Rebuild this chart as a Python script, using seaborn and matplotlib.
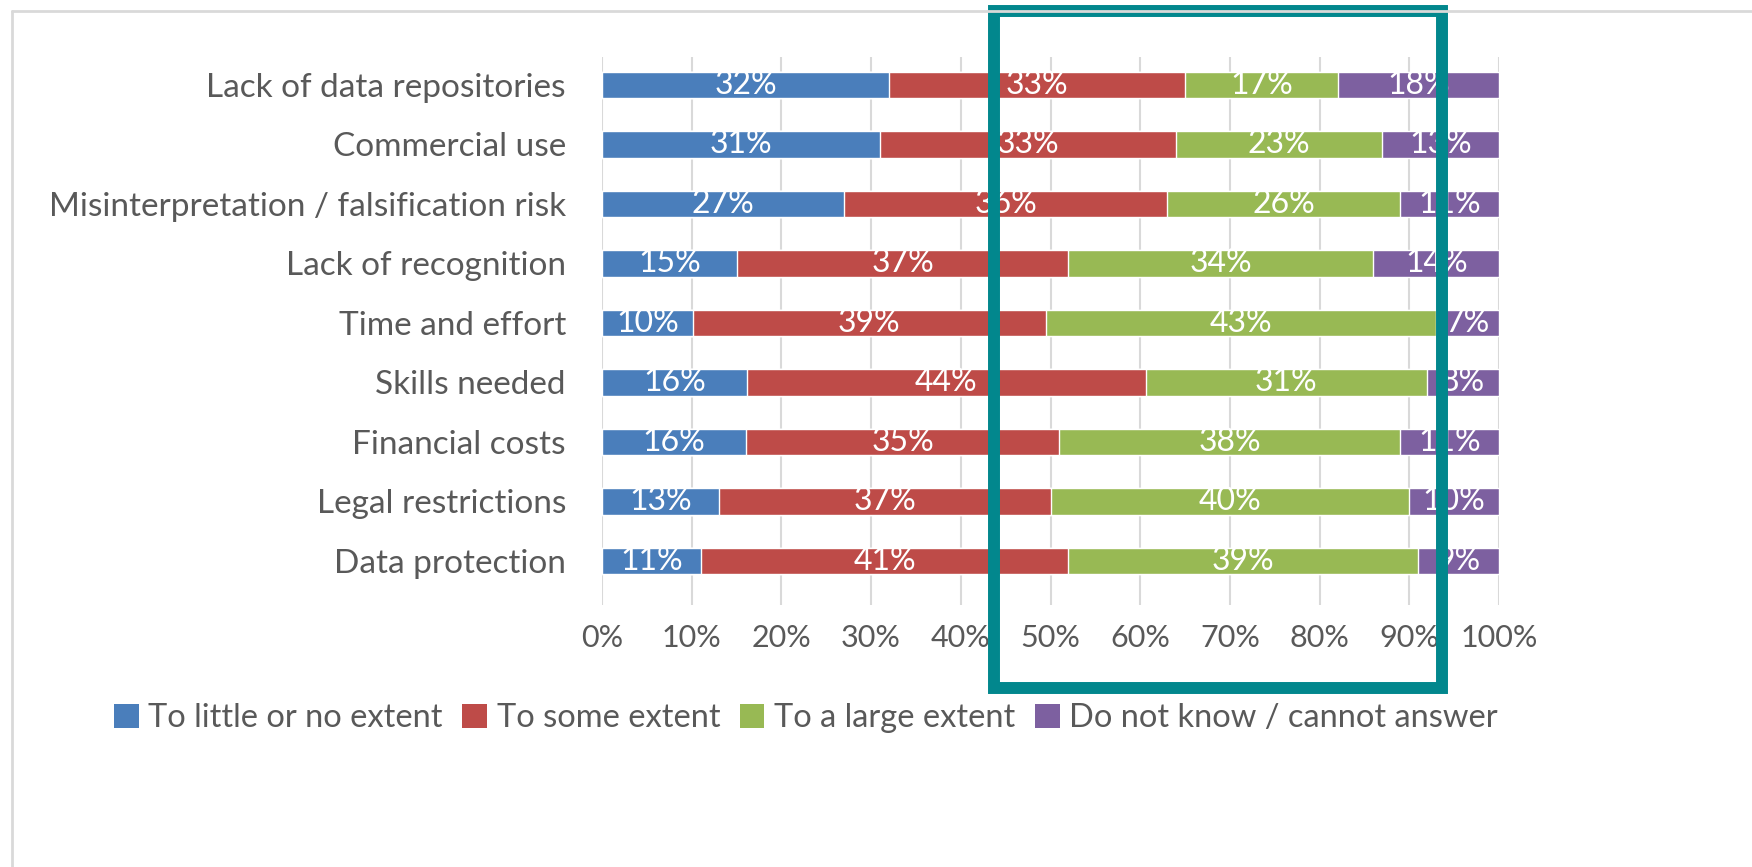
import numpy as np
import pandas as pd
import matplotlib
matplotlib.use("Agg")
import matplotlib.pyplot as plt
import seaborn as sns
from matplotlib.patches import Patch, Rectangle
from matplotlib.lines import Line2D

# ------------------------------
# data (percent)
# ------------------------------
barriers = ["Lack of data repositories", "Commercial use",
            "Misinterpretation / falsification risk", "Lack of recognition",
            "Time and effort", "Skills needed", "Financial costs",
            "Legal restrictions", "Data protection"]
little = [32, 31, 27, 15, 10, 16, 16, 13, 11]
some = [33, 33, 36, 37, 39, 44, 35, 37, 41]
large = [17, 23, 26, 34, 43, 31, 38, 40, 39]
dont_know = [18, 13, 11, 14, 7, 8, 11, 10, 9]

series_names = ["To little or no extent", "To some extent",
                "To a large extent", "Do not know / cannot answer"]
colors = ["#4A7EBB", "#BE4B48", "#98B954", "#7D60A0"]
tick_vals = [0, 10, 20, 30, 40, 50, 60, 70, 80, 90, 100]

df = pd.DataFrame({"barrier": barriers, series_names[0]: little,
                   series_names[1]: some, series_names[2]: large,
                   series_names[3]: dont_know})

# 100% stacked -> normalise each row
vals = df[series_names].to_numpy(dtype=float)
shares = vals / vals.sum(axis=1, keepdims=True) * 100
cum = np.cumsum(shares, axis=1)

sns.set_style("white")
plt.rcParams["font.family"] = ["Lato", "DejaVu Sans"]
text_col = "#595959"

fig = plt.figure(figsize=(17.52, 8.67), dpi=100)
ax = fig.add_axes([602 / 1752, 1 - 605 / 867, 897 / 1752, 548 / 867])

# draw from the full stack down so each shorter bar sits on top
for i in range(len(series_names) - 1, -1, -1):
    plot_df = pd.DataFrame({"barrier": barriers, "end": cum[:, i]})
    sns.barplot(data=plot_df, x="end", y="barrier", order=barriers,
                color=colors[i], saturation=1, width=0.44, ax=ax, orient="h")

# value labels in the middle of each segment
for r in range(len(barriers)):
    for i in range(len(series_names)):
        start = cum[r, i] - shares[r, i]
        ax.text(start + shares[r, i] / 2, r, f"{int(vals[r, i])}%",
                ha="center", va="center", color="white", fontsize=23)

ax.set_xlim(0, 100)
ax.set_ylim(8.74, -0.47)
ax.set_xticks(tick_vals)
ax.set_xticklabels([f"{t}%" for t in tick_vals])
ax.xaxis.grid(True, color="#D9D9D9", linewidth=1.5)
ax.set_axisbelow(True)
ax.set_xlabel("")
ax.set_ylabel("")
for s in ax.spines.values():
    s.set_visible(False)
ax.tick_params(axis="x", length=0, pad=14, labelsize=22, labelcolor=text_col)
ax.tick_params(axis="y", length=0, pad=26, labelsize=24, labelcolor=text_col)

# legend
handles = [Patch(facecolor=c, edgecolor="none") for c in colors]
fig.legend(handles, series_names, loc="center", ncol=4,
           bbox_to_anchor=(806 / 1752, 1 - 718 / 867), frameon=False,
           fontsize=23.5, labelcolor=text_col, handlelength=0.75,
           handleheight=0.75, handletextpad=0.3, columnspacing=0.6)

# light chart border (top and left visible)
bx, by = 12 / 1752, 1 - 11 / 867
fig.add_artist(Line2D([bx, 1], [by, by], transform=fig.transFigure,
                      color="#D9D9D9", linewidth=2))
fig.add_artist(Line2D([bx, bx], [0, by], transform=fig.transFigure,
                      color="#D9D9D9", linewidth=2))

# teal highlight box
fig.add_artist(Rectangle((994 / 1752, 1 - 688 / 867), (1442 - 994) / 1752,
                         (688 - 11) / 867, transform=fig.transFigure,
                         fill=False, edgecolor="#02878D", linewidth=8.6))

fig.savefig("out.png", dpi=100)
